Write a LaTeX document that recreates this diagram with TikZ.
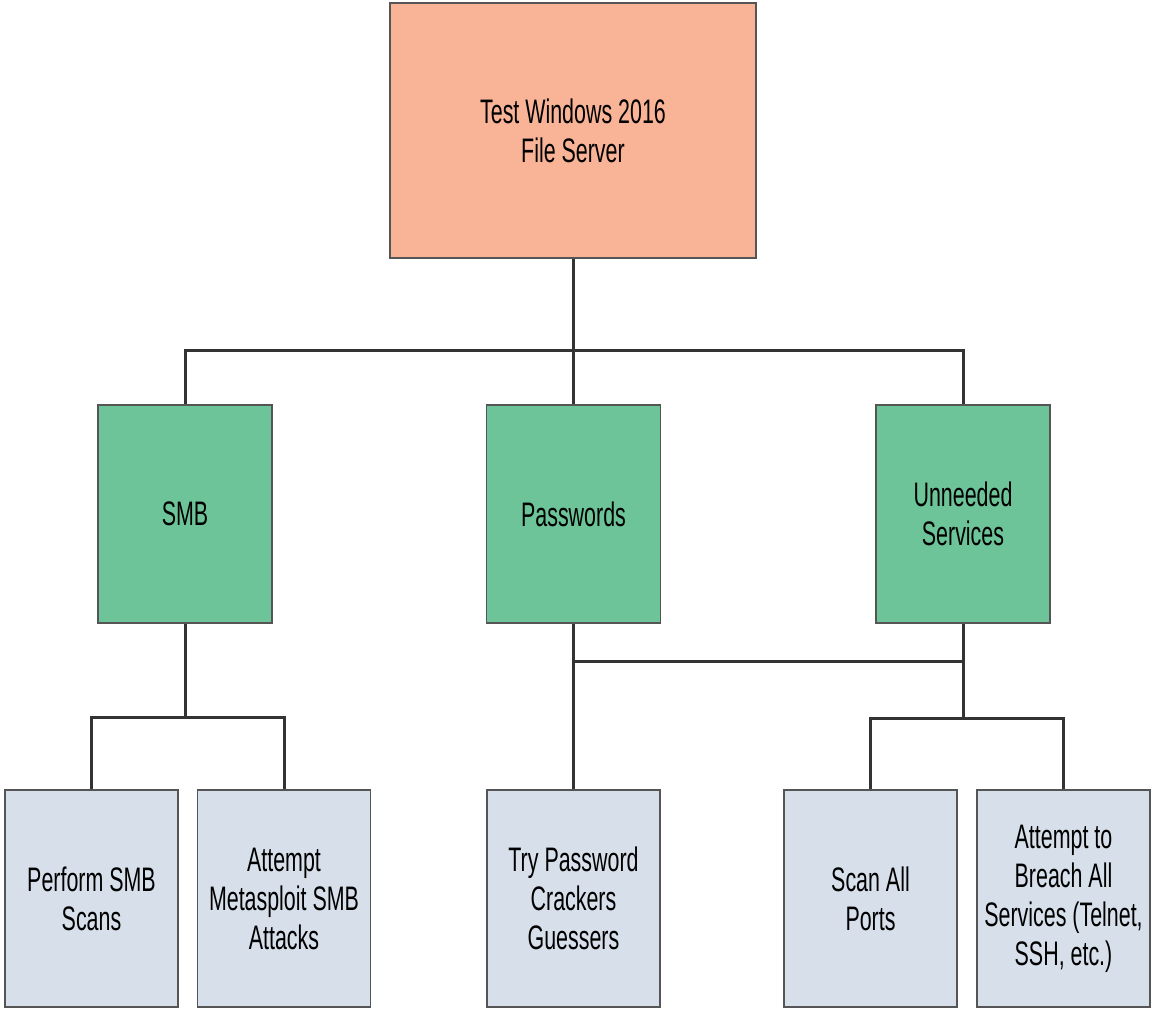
\documentclass[tikz,border=0pt]{standalone}
\usepackage{fontspec}
\setmainfont[FakeStretch=0.63]{Liberation Sans}
\definecolor{salmon}{HTML}{F9B497}
\definecolor{leaf}{HTML}{6CC498}
\definecolor{pale}{HTML}{D6DFEA}
\definecolor{edge}{HTML}{555555}
\definecolor{wire}{HTML}{333333}
\begin{document}
\begin{tikzpicture}[x=1pt,y=-1pt,
  box/.style={draw=edge,line width=1.6pt,align=center,inner sep=0pt,
    font=\fontsize{34}{39}\selectfont},
  rootbox/.style={box,fill=salmon,minimum width=366pt,minimum height=255pt},
  midbox/.style={box,fill=leaf,minimum width=174pt,minimum height=218pt},
  leafbox/.style={box,fill=pale,minimum width=173pt,minimum height=217pt},
  conn/.style={draw=wire,line width=3pt}]
\useasboundingbox[fill=white] (0,0) rectangle (1151,1011);
\node[rootbox] (top) at (573,130.5) {Test Windows 2016\\File Server};
\node[midbox] (smb) at (185,514) {SMB};
\node[midbox] (pw) at (573.5,514) {Passwords};
\node[midbox] (unn) at (963,514) {Unneeded\\Services};
\node[leafbox] (perf) at (91.5,898.5) {Perform SMB\\Scans};
\node[leafbox] (meta) at (284,898.5) {Attempt\\Metasploit SMB\\Attacks};
\node[leafbox] (try) at (573.5,898.5) {Try Password\\Crackers\\Guessers};
\node[leafbox] (scan) at (870.5,898.5) {Scan All\\Ports};
\node[leafbox] (breach) at (1063.5,898.5) {Attempt to\\Breach All\\Services (Telnet,\\SSH, etc.)};
\coordinate (bus) at (0,350);
\coordinate (b1) at (0,717);
\coordinate (c2) at (0,661);
\coordinate (b3) at (0,718);
\draw[conn] (top.south) -- (top.south |- bus);
\draw[conn] (smb.north) -- (smb.north |- bus) -- (unn.north |- bus) -- (unn.north);
\draw[conn] (pw.north) -- (pw.north |- bus);
\draw[conn] (smb.south) -- (smb.south |- b1);
\draw[conn] (perf.north) -- (perf.north |- b1) -- (meta.north |- b1) -- (meta.north);
\draw[conn] (pw.south) -- (try.north);
\draw[conn] (pw.south |- c2) -- (unn.south |- c2);
\draw[conn] (unn.south) -- (unn.south |- b3);
\draw[conn] (scan.north) -- (scan.north |- b3) -- (breach.north |- b3) -- (breach.north);
\end{tikzpicture}
\end{document}
